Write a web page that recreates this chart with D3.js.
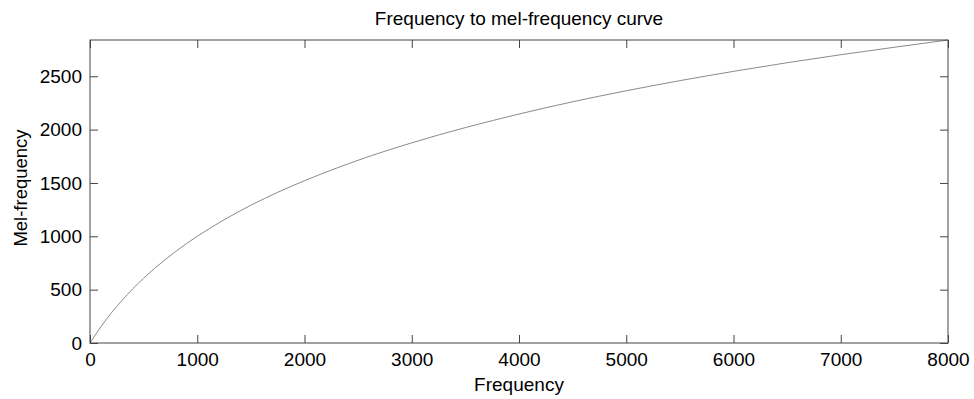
<!DOCTYPE html>
<html>
<head>
<meta charset="utf-8">
<script src="https://cdn.jsdelivr.net/npm/d3@7"></script>
<style>
  body { margin: 0; background: #fff; }
  svg text { font-family: "Liberation Sans", Arial, sans-serif; fill: #000; }
</style>
</head>
<body>
<div id="chart"></div>
<script>
// values
var freqs = [0, 100, 200, 300, 400, 500, 600, 700, 800, 900, 1000, 1250, 1500, 1750, 2000,
             2500, 3000, 3500, 4000, 4500, 5000, 5500, 6000, 6500, 7000, 7500, 8000];
var mels  = [0, 150, 283, 401, 509, 607, 697, 781, 859, 932, 1000, 1155, 1291, 1412, 1521,
             1713, 1876, 2019, 2146, 2261, 2364, 2459, 2546, 2627, 2702, 2772, 2840];
var xTicks = [0, 1000, 2000, 3000, 4000, 5000, 6000, 7000, 8000];
var yTicks = [0, 500, 1000, 1500, 2000, 2500];

var width = 974, height = 399;
var margin = { left: 90, right: 26, top: 40, bottom: 56 };
var fontSize = "19px";

var svg = d3.select("#chart").append("svg")
    .attr("width", width)
    .attr("height", height);

var x = d3.scaleLinear().domain([0, 8000]).range([margin.left, width - margin.right]);
var y = d3.scaleLinear().domain([0, 2840]).range([height - margin.bottom, margin.top]);

var axisColor = "#444";
var fmt = d3.format("d");

// curve
var line = d3.line()
    .x(function (d, i) { return x(freqs[i]); })
    .y(function (d) { return y(d); })
    .curve(d3.curveMonotoneX);

svg.append("path")
    .datum(mels)
    .attr("d", line)
    .attr("fill", "none")
    .attr("stroke", "#8a8a8a")
    .attr("stroke-width", 1);

// box
svg.append("rect")
    .attr("x", x(0))
    .attr("y", y(2840))
    .attr("width", x(8000) - x(0))
    .attr("height", y(0) - y(2840))
    .attr("fill", "none")
    .attr("stroke", axisColor)
    .attr("stroke-width", 1);

// axes with inward ticks
var axBottom = svg.append("g")
    .attr("transform", "translate(0," + y(0) + ")")
    .call(d3.axisBottom(x).tickValues(xTicks).tickFormat(fmt).tickSizeInner(-8).tickSizeOuter(0).tickPadding(10));
var axTop = svg.append("g")
    .attr("transform", "translate(0," + y(2840) + ")")
    .call(d3.axisTop(x).tickValues(xTicks).tickSizeInner(-8).tickSizeOuter(0).tickFormat(""));
var axLeft = svg.append("g")
    .attr("transform", "translate(" + x(0) + ",0)")
    .call(d3.axisLeft(y).tickValues(yTicks).tickFormat(fmt).tickSizeInner(-8).tickSizeOuter(0).tickPadding(8));
var axRight = svg.append("g")
    .attr("transform", "translate(" + x(8000) + ",0)")
    .call(d3.axisRight(y).tickValues(yTicks).tickSizeInner(-8).tickSizeOuter(0).tickFormat(""));

[axBottom, axTop, axLeft, axRight].forEach(function (g) {
    g.select(".domain").remove();
    g.selectAll(".tick line").attr("stroke", axisColor);
    g.selectAll(".tick text")
        .style("font-size", fontSize)
        .style("font-family", "'Liberation Sans', Arial, sans-serif")
        .attr("fill", "#000");
});

// titles
svg.append("text")
    .attr("x", (x(0) + x(8000)) / 2)
    .attr("y", 25)
    .attr("text-anchor", "middle")
    .style("font-size", fontSize)
    .text("Frequency to mel-frequency curve");

svg.append("text")
    .attr("x", (x(0) + x(8000)) / 2)
    .attr("y", 391)
    .attr("text-anchor", "middle")
    .style("font-size", fontSize)
    .text("Frequency");

svg.append("text")
    .attr("transform", "translate(27,188) rotate(-90)")
    .attr("text-anchor", "middle")
    .style("font-size", "18.5px")
    .text("Mel-frequency");
</script>
</body>
</html>
